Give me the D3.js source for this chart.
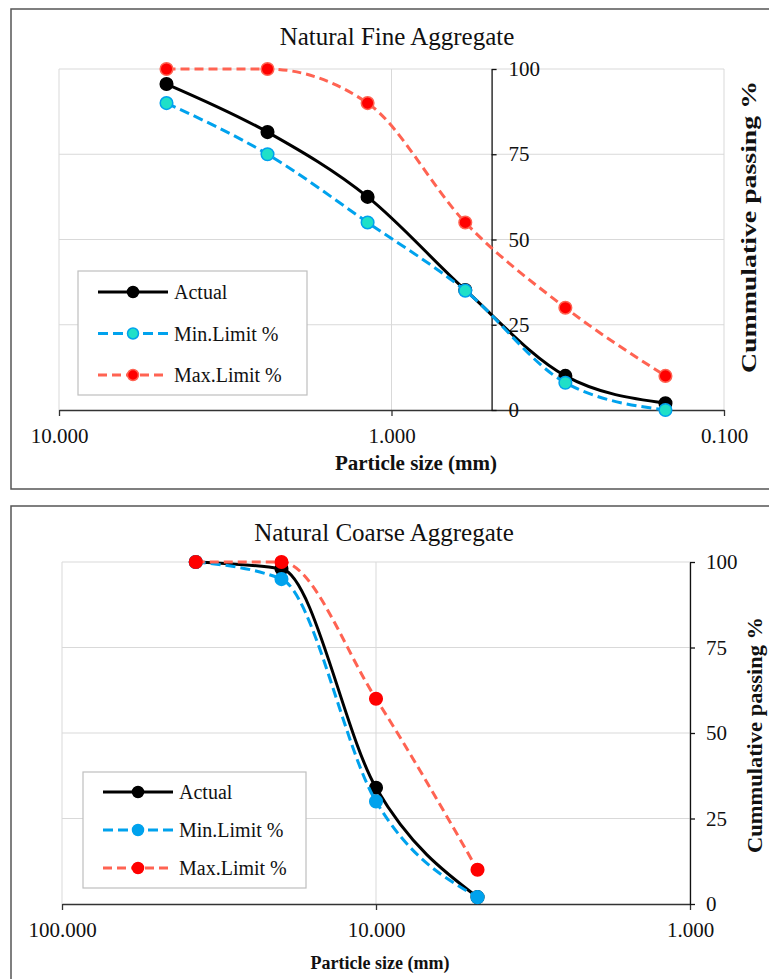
<!DOCTYPE html>
<html>
<head>
<meta charset="utf-8">
<script src="https://cdnjs.cloudflare.com/ajax/libs/d3/7.8.5/d3.min.js"></script>
<style>
  body { margin: 0; background: #fff; }
  svg { display: block; }
  svg text { font-family: "Liberation Serif", "Times New Roman", serif; }
</style>
</head>
<body>
<script>
// sieve data (mm, % passing)
const seriesNames = ["Actual", "Min.Limit %", "Max.Limit %"];

const fineSizes = [4.75, 2.36, 1.18, 0.6, 0.3, 0.15];
const fineActual = [95.6, 81.5, 62.5, 35.2, 10, 2];
const fineMin = [90, 75, 55, 35, 8, 0];
const fineMax = [100, 100, 90, 55, 30, 10];
const fineXTicks = [10, 1, 0.1];

const coarseSizes = [37.5, 20, 10, 4.75];
const coarseActual = [100, 98, 34, 2];
const coarseMin = [100, 95, 30, 2];
const coarseMax = [100, 100, 60, 10];
const coarseXTicks = [100, 10, 1];

const yTicks = [0, 25, 50, 75, 100];

const svg = d3.select("body").append("svg")
    .attr("width", 769)
    .attr("height", 979);

// chart frames
svg.append("rect").attr("x", 11).attr("y", 9).attr("width", 780).attr("height", 480)
    .attr("fill", "#fff").attr("stroke", "#555").attr("stroke-width", 1.5);
svg.append("rect").attr("x", 11).attr("y", 506).attr("width", 780).attr("height", 490)
    .attr("fill", "#fff").attr("stroke", "#555").attr("stroke-width", 1.5);

function drawChart(o) {
    const g = svg.append("g");

    const x = d3.scaleLog().domain(o.xDomain).range([o.left, o.right]);
    const y = d3.scaleLinear().domain([0, 100]).range([o.bottom, o.top]);

    // gridlines
    g.append("g").selectAll("line.h")
        .data(yTicks.filter(d => d > 0))
        .enter().append("line")
        .attr("x1", o.left).attr("x2", o.right)
        .attr("y1", d => y(d)).attr("y2", d => y(d))
        .attr("stroke", "#d9d9d9").attr("stroke-width", 1);
    g.append("g").selectAll("line.v")
        .data(o.xTicks)
        .enter().append("line")
        .attr("x1", d => x(d)).attr("x2", d => x(d))
        .attr("y1", o.top).attr("y2", o.bottom)
        .attr("stroke", "#d9d9d9").attr("stroke-width", 1);

    // x axis
    const xAxis = g.append("g")
        .attr("transform", `translate(0,${o.bottom})`)
        .call(d3.axisBottom(x).tickValues(o.xTicks).tickFormat(d3.format(".3f"))
            .tickSize(6).tickSizeOuter(0).tickPadding(12));
    xAxis.selectAll("path, line").attr("stroke", "#333").attr("stroke-width", 1.3);
    xAxis.selectAll("text").attr("font-size", 21).attr("fill", "#111");

    // y axis
    const yAxis = g.append("g")
        .attr("transform", `translate(${x(o.yAxisAt)},0)`)
        .call(d3.axisRight(y).tickValues(yTicks).tickFormat(d => d)
            .tickSize(5).tickSizeOuter(0).tickPadding(o.yPad));
    yAxis.selectAll("path, line").attr("stroke", "#111").attr("stroke-width", 1.3);
    yAxis.selectAll("text").attr("font-size", 21).attr("fill", "#111");

    // series
    const series = [o.actual, o.min, o.max];
    const line = d3.line()
        .x(d => x(d.size))
        .y(d => y(d.value))
        .curve(d3.curveMonotoneX);

    series.forEach((vals, i) => {
        const st = o.styles[i];
        const pts = o.sizes.map((s, j) => ({size: s, value: vals[j]}));
        g.append("path")
            .datum(pts)
            .attr("fill", "none")
            .attr("stroke", st.line)
            .attr("stroke-width", 3)
            .attr("stroke-dasharray", st.dash)
            .attr("d", line);
        g.selectAll(".pt" + i)
            .data(pts)
            .enter().append("circle")
            .attr("cx", d => x(d.size))
            .attr("cy", d => y(d.value))
            .attr("r", 6.3)
            .attr("fill", st.fill)
            .attr("stroke", st.stroke)
            .attr("stroke-width", 1.5);
    });

    // legend
    const lg = o.legend;
    g.append("rect")
        .attr("x", lg.x).attr("y", lg.y).attr("width", lg.w).attr("height", lg.h)
        .attr("fill", "#fff").attr("stroke", "#bfbfbf").attr("stroke-width", 1.2);
    seriesNames.forEach((name, i) => {
        const st = o.styles[i];
        const ly = lg.y + lg.first + i * lg.step;
        g.append("line")
            .attr("x1", lg.x + 20).attr("x2", lg.x + 90)
            .attr("y1", ly).attr("y2", ly)
            .attr("stroke", st.line).attr("stroke-width", 3)
            .attr("stroke-dasharray", st.dash);
        g.append("circle")
            .attr("cx", lg.x + 55).attr("cy", ly).attr("r", 5.5)
            .attr("fill", st.fill).attr("stroke", st.stroke).attr("stroke-width", 1.5);
        g.append("text")
            .attr("x", lg.x + 96).attr("y", ly + 7)
            .attr("font-size", 20).attr("fill", "#111")
            .text(name);
    });

    // titles
    g.append("text")
        .attr("x", o.titleX).attr("y", o.titleY)
        .attr("text-anchor", "middle").attr("font-size", 25).attr("fill", "#111")
        .text(o.title);
    g.append("text")
        .attr("x", o.xTitleX).attr("y", o.xTitleY)
        .attr("text-anchor", "middle").attr("font-size", o.xTitleSize)
        .attr("font-weight", "bold").attr("fill", "#111")
        .text("Particle size (mm)");
    g.append("text")
        .attr("transform", `translate(${o.yTitleX},${o.yTitleY}) rotate(-90)`)
        .attr("text-anchor", "middle").attr("font-size", 22)
        .attr("font-weight", "bold").attr("fill", "#111")
        .attr("textLength", o.yTitleLen).attr("lengthAdjust", "spacingAndGlyphs")
        .text("Cummulative passing %");
}

drawChart({
    title: "Natural Fine Aggregate",
    sizes: fineSizes, actual: fineActual, min: fineMin, max: fineMax,
    xDomain: [10, 0.1], xTicks: fineXTicks, yAxisAt: 0.5, yPad: 12,
    left: 59, right: 724, top: 69, bottom: 410,
    titleX: 397, titleY: 45,
    xTitleX: 416, xTitleY: 470, xTitleSize: 21,
    yTitleX: 756, yTitleY: 227, yTitleLen: 292,
    legend: {x: 78, y: 271, w: 229, h: 124, first: 21, step: 41.5},
    styles: [
        {line: "#000", dash: null, fill: "#000", stroke: "#000"},
        {line: "#00a2ed", dash: "10,5", fill: "#1fe0c8", stroke: "#00a2ed"},
        {line: "#ff6352", dash: "9,5", fill: "#ff0000", stroke: "#ff6352"}
    ]
});

drawChart({
    title: "Natural Coarse Aggregate",
    sizes: coarseSizes, actual: coarseActual, min: coarseMin, max: coarseMax,
    xDomain: [100, 1], xTicks: coarseXTicks, yAxisAt: 1, yPad: 11,
    left: 62, right: 690, top: 562, bottom: 904,
    titleX: 384, titleY: 541,
    xTitleX: 380, xTitleY: 969, xTitleSize: 18,
    yTitleX: 762, yTitleY: 735, yTitleLen: 236,
    legend: {x: 83, y: 772, w: 223, h: 116, first: 20, step: 38},
    styles: [
        {line: "#000", dash: null, fill: "#000", stroke: "#000"},
        {line: "#00a2ed", dash: "10,5", fill: "#00a2ed", stroke: "#00a2ed"},
        {line: "#ff6352", dash: "9,5", fill: "#ff0000", stroke: "#ff0000"}
    ]
});
</script>
</body>
</html>
